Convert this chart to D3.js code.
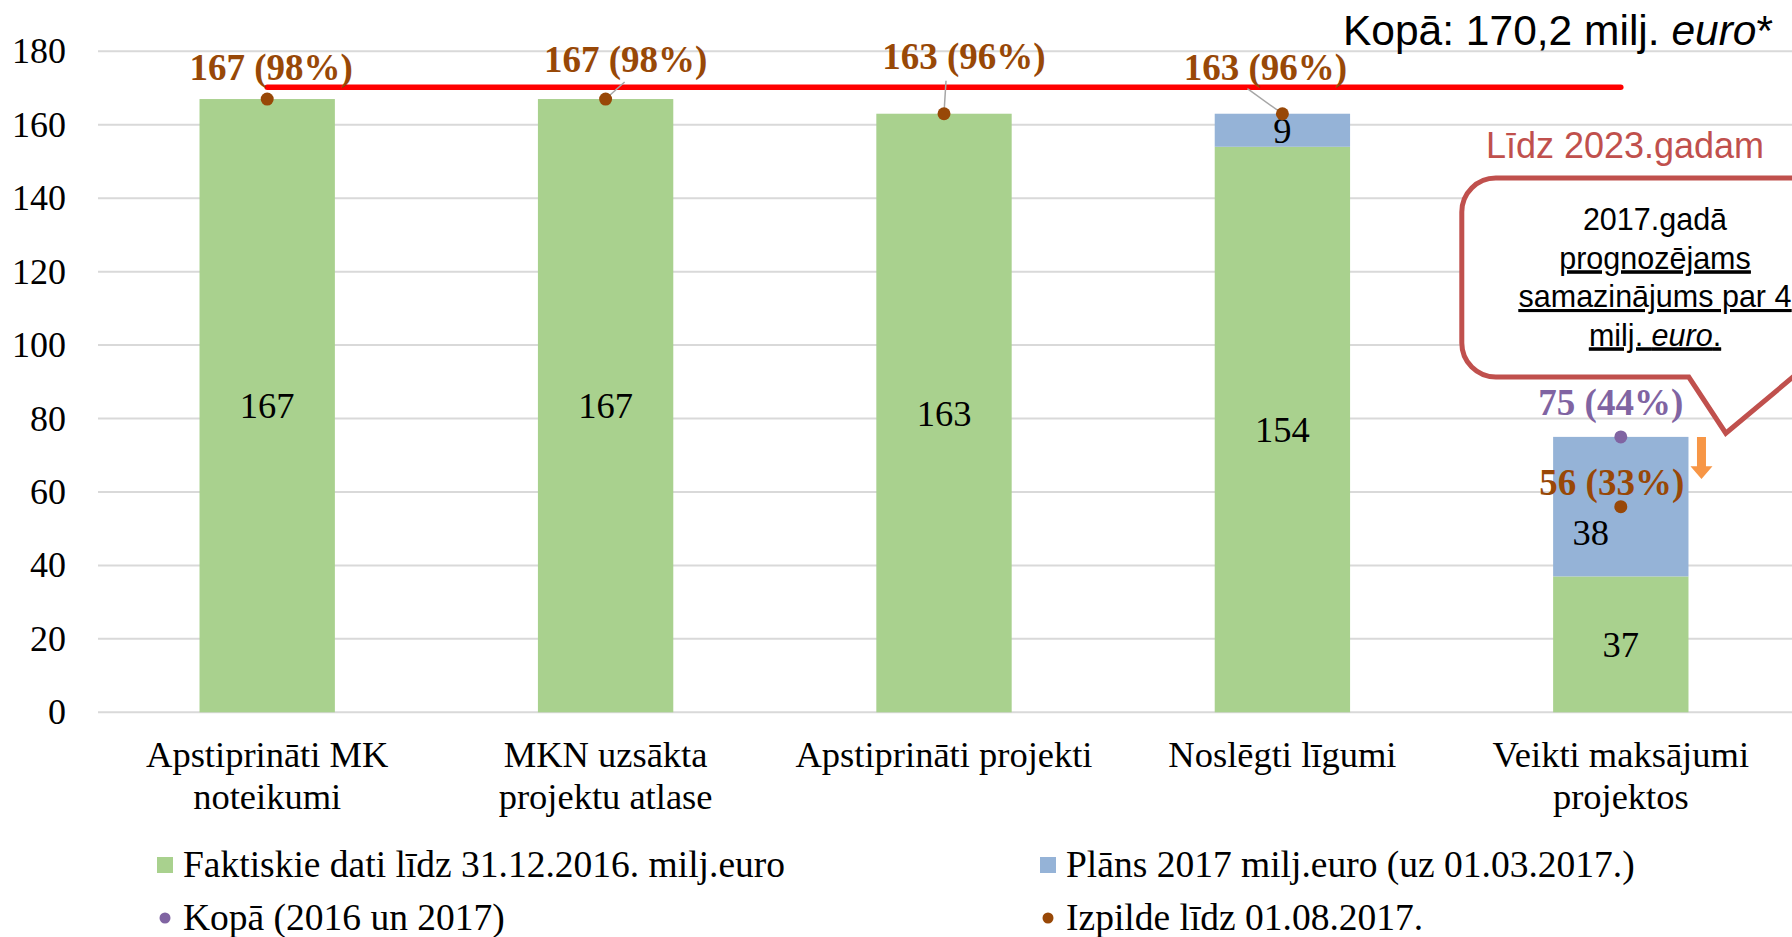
<!DOCTYPE html>
<html>
<head>
<meta charset="utf-8">
<style>
  body { margin: 0; background: #fff; overflow: hidden; }
  text { font-family: "Liberation Serif", "Times New Roman", serif; }
  .sans { font-family: "Liberation Sans", Arial, sans-serif; }
</style>
</head>
<body>
<script src="https://cdn.jsdelivr.net/npm/d3@7/dist/d3.min.js"></script>
<script>
// chart data
var categories = [
  ["Apstiprināti MK", "noteikumi"],
  ["MKN uzsākta", "projektu atlase"],
  ["Apstiprināti projekti"],
  ["Noslēgti līgumi"],
  ["Veikti maksājumi", "projektos"]
];
var actual2016 = [167, 167, 163, 154, 37];   // Faktiskie dati līdz 31.12.2016.
var plan2017   = [0, 0, 0, 9, 38];           // Plāns 2017 (uz 01.03.2017.)
var execution  = [167, 167, 163, 163, 56];   // Izpilde līdz 01.08.2017.
var totalKopa  = [null, null, null, null, 75]; // Kopā (2016 un 2017)
var totalBudget = 170.2;
var yTicks = [0, 20, 40, 60, 80, 100, 120, 140, 160, 180];

// label nudges (pixels) for the dot labels, like the hand-moved labels in the original
var execLabelOffset = [[4, -19], [20, -27], [20, -45], [-17, -34], [-9, -12]];
var leaderFrom = [null, [19, -17], [2, -33], [-35, -25], null];

var width = 1792, height = 937;
var margin = {top: 51, right: 2, bottom: 225, left: 98};

var colGreen = "#A9D18E", colBlue = "#95B3D7", colBrown = "#984807",
    colPurple = "#8064A2", colGrid = "#D9D9D9", colCallout = "#C0504D";

var svg = d3.select("body").append("svg")
  .attr("width", width)
  .attr("height", height);

var x = d3.scaleBand()
  .domain(d3.range(categories.length))
  .range([margin.left, width - margin.right])
  .paddingInner(0.6)
  .paddingOuter(0.3);

var y = d3.scaleLinear()
  .domain([0, 180])
  .range([height - margin.bottom + 0.3, margin.top + 0.3]);

var cx = function(i) { return x(i) + x.bandwidth() / 2; };

// gridlines
svg.append("g").selectAll("line")
  .data(yTicks)
  .enter().append("line")
  .attr("x1", margin.left)
  .attr("x2", width)
  .attr("y1", function(d) { return y(d); })
  .attr("y2", function(d) { return y(d); })
  .attr("stroke", colGrid)
  .attr("stroke-width", 2);

// y axis labels
var yAxis = d3.axisLeft(y).tickValues(yTicks).tickSize(0).tickPadding(32);
var gy = svg.append("g")
  .attr("transform", "translate(" + margin.left + ",0)")
  .call(yAxis);
gy.select(".domain").remove();
gy.selectAll("text")
  .attr("font-family", "Liberation Serif")
  .attr("font-size", 36)
  .attr("fill", "#000");

// stacked bars
var rows = categories.map(function(c, i) { return {i: i, a: actual2016[i], p: plan2017[i]}; });
var stack = d3.stack().keys(["a", "p"])(rows);
var colors = {a: colGreen, p: colBlue};

svg.append("g").selectAll("g")
  .data(stack)
  .enter().append("g")
  .attr("fill", function(d) { return colors[d.key]; })
  .selectAll("rect")
  .data(function(d) { return d; })
  .enter().append("rect")
  .attr("x", function(d) { return x(d.data.i); })
  .attr("y", function(d) { return y(d[1]); })
  .attr("width", x.bandwidth())
  .attr("height", function(d) { return y(d[0]) - y(d[1]); });

// values inside bars
var valueLabelOffset = {"p4": [-30, 26]};
stack.forEach(function(s) {
  svg.append("g").selectAll("text")
    .data(s.filter(function(d) { return d[1] - d[0] > 0; }))
    .enter().append("text")
    .attr("x", function(d) {
      var o = valueLabelOffset[s.key + d.data.i];
      return cx(d.data.i) + (o ? o[0] : 0);
    })
    .attr("y", function(d) {
      var o = valueLabelOffset[s.key + d.data.i];
      return y((d[0] + d[1]) / 2) + (o ? o[1] : 0);
    })
    .attr("dy", "0.35em")
    .attr("text-anchor", "middle")
    .attr("font-size", 36.5)
    .attr("fill", "#000")
    .text(function(d) { return d[1] - d[0]; });
});

// red total line
svg.append("path")
  .datum([0, categories.length - 1])
  .attr("d", d3.line()
    .x(function(i) { return cx(i); })
    .y(function() { return y(totalBudget); }))
  .attr("stroke", "#FF0000")
  .attr("stroke-width", 5.5)
  .attr("stroke-linecap", "round")
  .attr("fill", "none");

// leader lines
svg.append("g").selectAll("line")
  .data(execution.map(function(v, i) { return {v: v, i: i}; })
    .filter(function(d) { return leaderFrom[d.i]; }))
  .enter().append("line")
  .attr("x1", function(d) { return cx(d.i) + leaderFrom[d.i][0]; })
  .attr("y1", function(d) { return y(d.v) + leaderFrom[d.i][1]; })
  .attr("x2", function(d) { return cx(d.i); })
  .attr("y2", function(d) { return y(d.v); })
  .attr("stroke", "#A6A6A6")
  .attr("stroke-width", 1.5);

var pct = function(v) { return v + " (" + Math.round(v / totalBudget * 100) + "%)"; };

// Izpilde dots + labels
var exec = execution.map(function(v, i) { return {v: v, i: i}; });
svg.append("g").selectAll("circle")
  .data(exec)
  .enter().append("circle")
  .attr("cx", function(d) { return cx(d.i); })
  .attr("cy", function(d) { return y(d.v); })
  .attr("r", 6.5)
  .attr("fill", colBrown);

svg.append("g").selectAll("text")
  .data(exec)
  .enter().append("text")
  .attr("x", function(d) { return cx(d.i) + execLabelOffset[d.i][0]; })
  .attr("y", function(d) { return y(d.v) + execLabelOffset[d.i][1]; })
  .attr("text-anchor", "middle")
  .attr("font-size", 37)
  .attr("font-weight", "bold")
  .attr("fill", colBrown)
  .text(function(d) { return pct(d.v); });

// Kopā dots + labels
var kop = totalKopa.map(function(v, i) { return {v: v, i: i}; })
  .filter(function(d) { return d.v != null; });
svg.append("g").selectAll("circle")
  .data(kop)
  .enter().append("circle")
  .attr("cx", function(d) { return cx(d.i); })
  .attr("cy", function(d) { return y(d.v); })
  .attr("r", 6.5)
  .attr("fill", colPurple);

svg.append("g").selectAll("text")
  .data(kop)
  .enter().append("text")
  .attr("x", function(d) { return cx(d.i) - 10; })
  .attr("y", function(d) { return y(d.v) - 22; })
  .attr("text-anchor", "middle")
  .attr("font-size", 37)
  .attr("font-weight", "bold")
  .attr("fill", colPurple)
  .text(function(d) { return pct(d.v); });

// orange down arrow next to the last bar
var last = categories.length - 1;
var ax = x(last) + x.bandwidth() + 13;
var aTop = y(totalKopa[last]), aNeck = y(67), aTip = y(63.5);
svg.append("path")
  .attr("d", "M" + (ax - 4.5) + "," + aTop + "V" + aNeck + "H" + (ax - 11) +
             "L" + ax + "," + aTip + "L" + (ax + 11) + "," + aNeck +
             "H" + (ax + 4.5) + "V" + aTop + "Z")
  .attr("fill", "#F79646");

// category labels
var cat = svg.append("g").selectAll("text")
  .data(categories)
  .enter().append("text")
  .attr("text-anchor", "middle")
  .attr("font-size", 36.5)
  .attr("fill", "#000");
cat.selectAll("tspan")
  .data(function(d, i) { return d.map(function(t) { return {t: t, i: i}; }); })
  .enter().append("tspan")
  .attr("x", function(d) { return cx(d.i); })
  .attr("y", function(d, j) { return 767 + j * 42; })
  .text(function(d) { return d.t; });

// callout box "Līdz 2023.gadam"
var bx0 = cx(last) - 159, bx1 = width + 40, by0 = y(145.5), by1 = y(91.3), r = 34;
var tipX = cx(last) + 105, tipY = y(76);
svg.append("path")
  .attr("d", "M" + (bx0 + r) + "," + by0 + "H" + bx1 + "V" + by1 +
             "H" + (width + 1) + "L" + tipX + "," + tipY + "L" + (tipX - 37) + "," + by1 +
             "H" + (bx0 + r) + "A" + r + "," + r + " 0 0 1 " + bx0 + "," + (by1 - r) +
             "V" + (by0 + r) + "A" + r + "," + r + " 0 0 1 " + (bx0 + r) + "," + by0 + "Z")
  .attr("fill", "#fff")
  .attr("stroke", colCallout)
  .attr("stroke-width", 5)
  .attr("stroke-linejoin", "miter");

svg.append("text")
  .attr("class", "sans")
  .attr("x", 1625).attr("y", 158)
  .attr("text-anchor", "middle")
  .attr("font-size", 36)
  .attr("fill", colCallout)
  .text("Līdz 2023.gadam");

var callLines = [
  {parts: [["2017.gadā", false]], u: false},
  {parts: [["prognozējams", false]], u: true},
  {parts: [["samazinājums par 4", false]], u: true},
  {parts: [["milj. ", false], ["euro", true], [".", false]], u: true}
];
callLines.forEach(function(l, k) {
  var t = svg.append("text")
    .attr("class", "sans")
    .attr("x", 1655).attr("y", 230 + k * 38.5)
    .attr("text-anchor", "middle")
    .attr("font-size", 30.5)
    .attr("fill", "#000")
    .attr("text-decoration", l.u ? "underline" : null);
  l.parts.forEach(function(p) {
    t.append("tspan")
      .attr("font-style", p[1] ? "italic" : null)
      .attr("text-decoration", l.u ? "underline" : null)
      .text(p[0]);
  });
});

// "Kopā" title
var ttl = svg.append("text")
  .attr("class", "sans")
  .attr("x", 1773).attr("y", 45)
  .attr("text-anchor", "end")
  .attr("font-size", 42.5)
  .attr("fill", "#000");
ttl.append("tspan").text("Kopā: " + String(totalBudget).replace(".", ",") + " milj. ");
ttl.append("tspan").attr("font-style", "italic").text("euro");
ttl.append("tspan").text("*");

// legend
var legend = [
  {label: "Faktiskie dati līdz 31.12.2016. milj.euro", color: colGreen, shape: "rect", x: 157, y: 865},
  {label: "Plāns 2017 milj.euro (uz 01.03.2017.)", color: colBlue, shape: "rect", x: 1040, y: 865},
  {label: "Kopā (2016 un 2017)", color: colPurple, shape: "dot", x: 157, y: 918},
  {label: "Izpilde līdz 01.08.2017.", color: colBrown, shape: "dot", x: 1040, y: 918}
];
var lg = svg.append("g").selectAll("g")
  .data(legend)
  .enter().append("g")
  .attr("transform", function(d) { return "translate(" + d.x + "," + d.y + ")"; });
lg.each(function(d) {
  var g = d3.select(this);
  if (d.shape === "rect") {
    g.append("rect").attr("x", 0).attr("y", -8).attr("width", 16).attr("height", 16).attr("fill", d.color);
  } else {
    g.append("circle").attr("cx", 8).attr("cy", 0).attr("r", 5.5).attr("fill", d.color);
  }
  g.append("text")
    .attr("x", 26).attr("y", 12)
    .attr("font-size", 37.5)
    .attr("fill", "#000")
    .text(d.label);
});
</script>
</body>
</html>
